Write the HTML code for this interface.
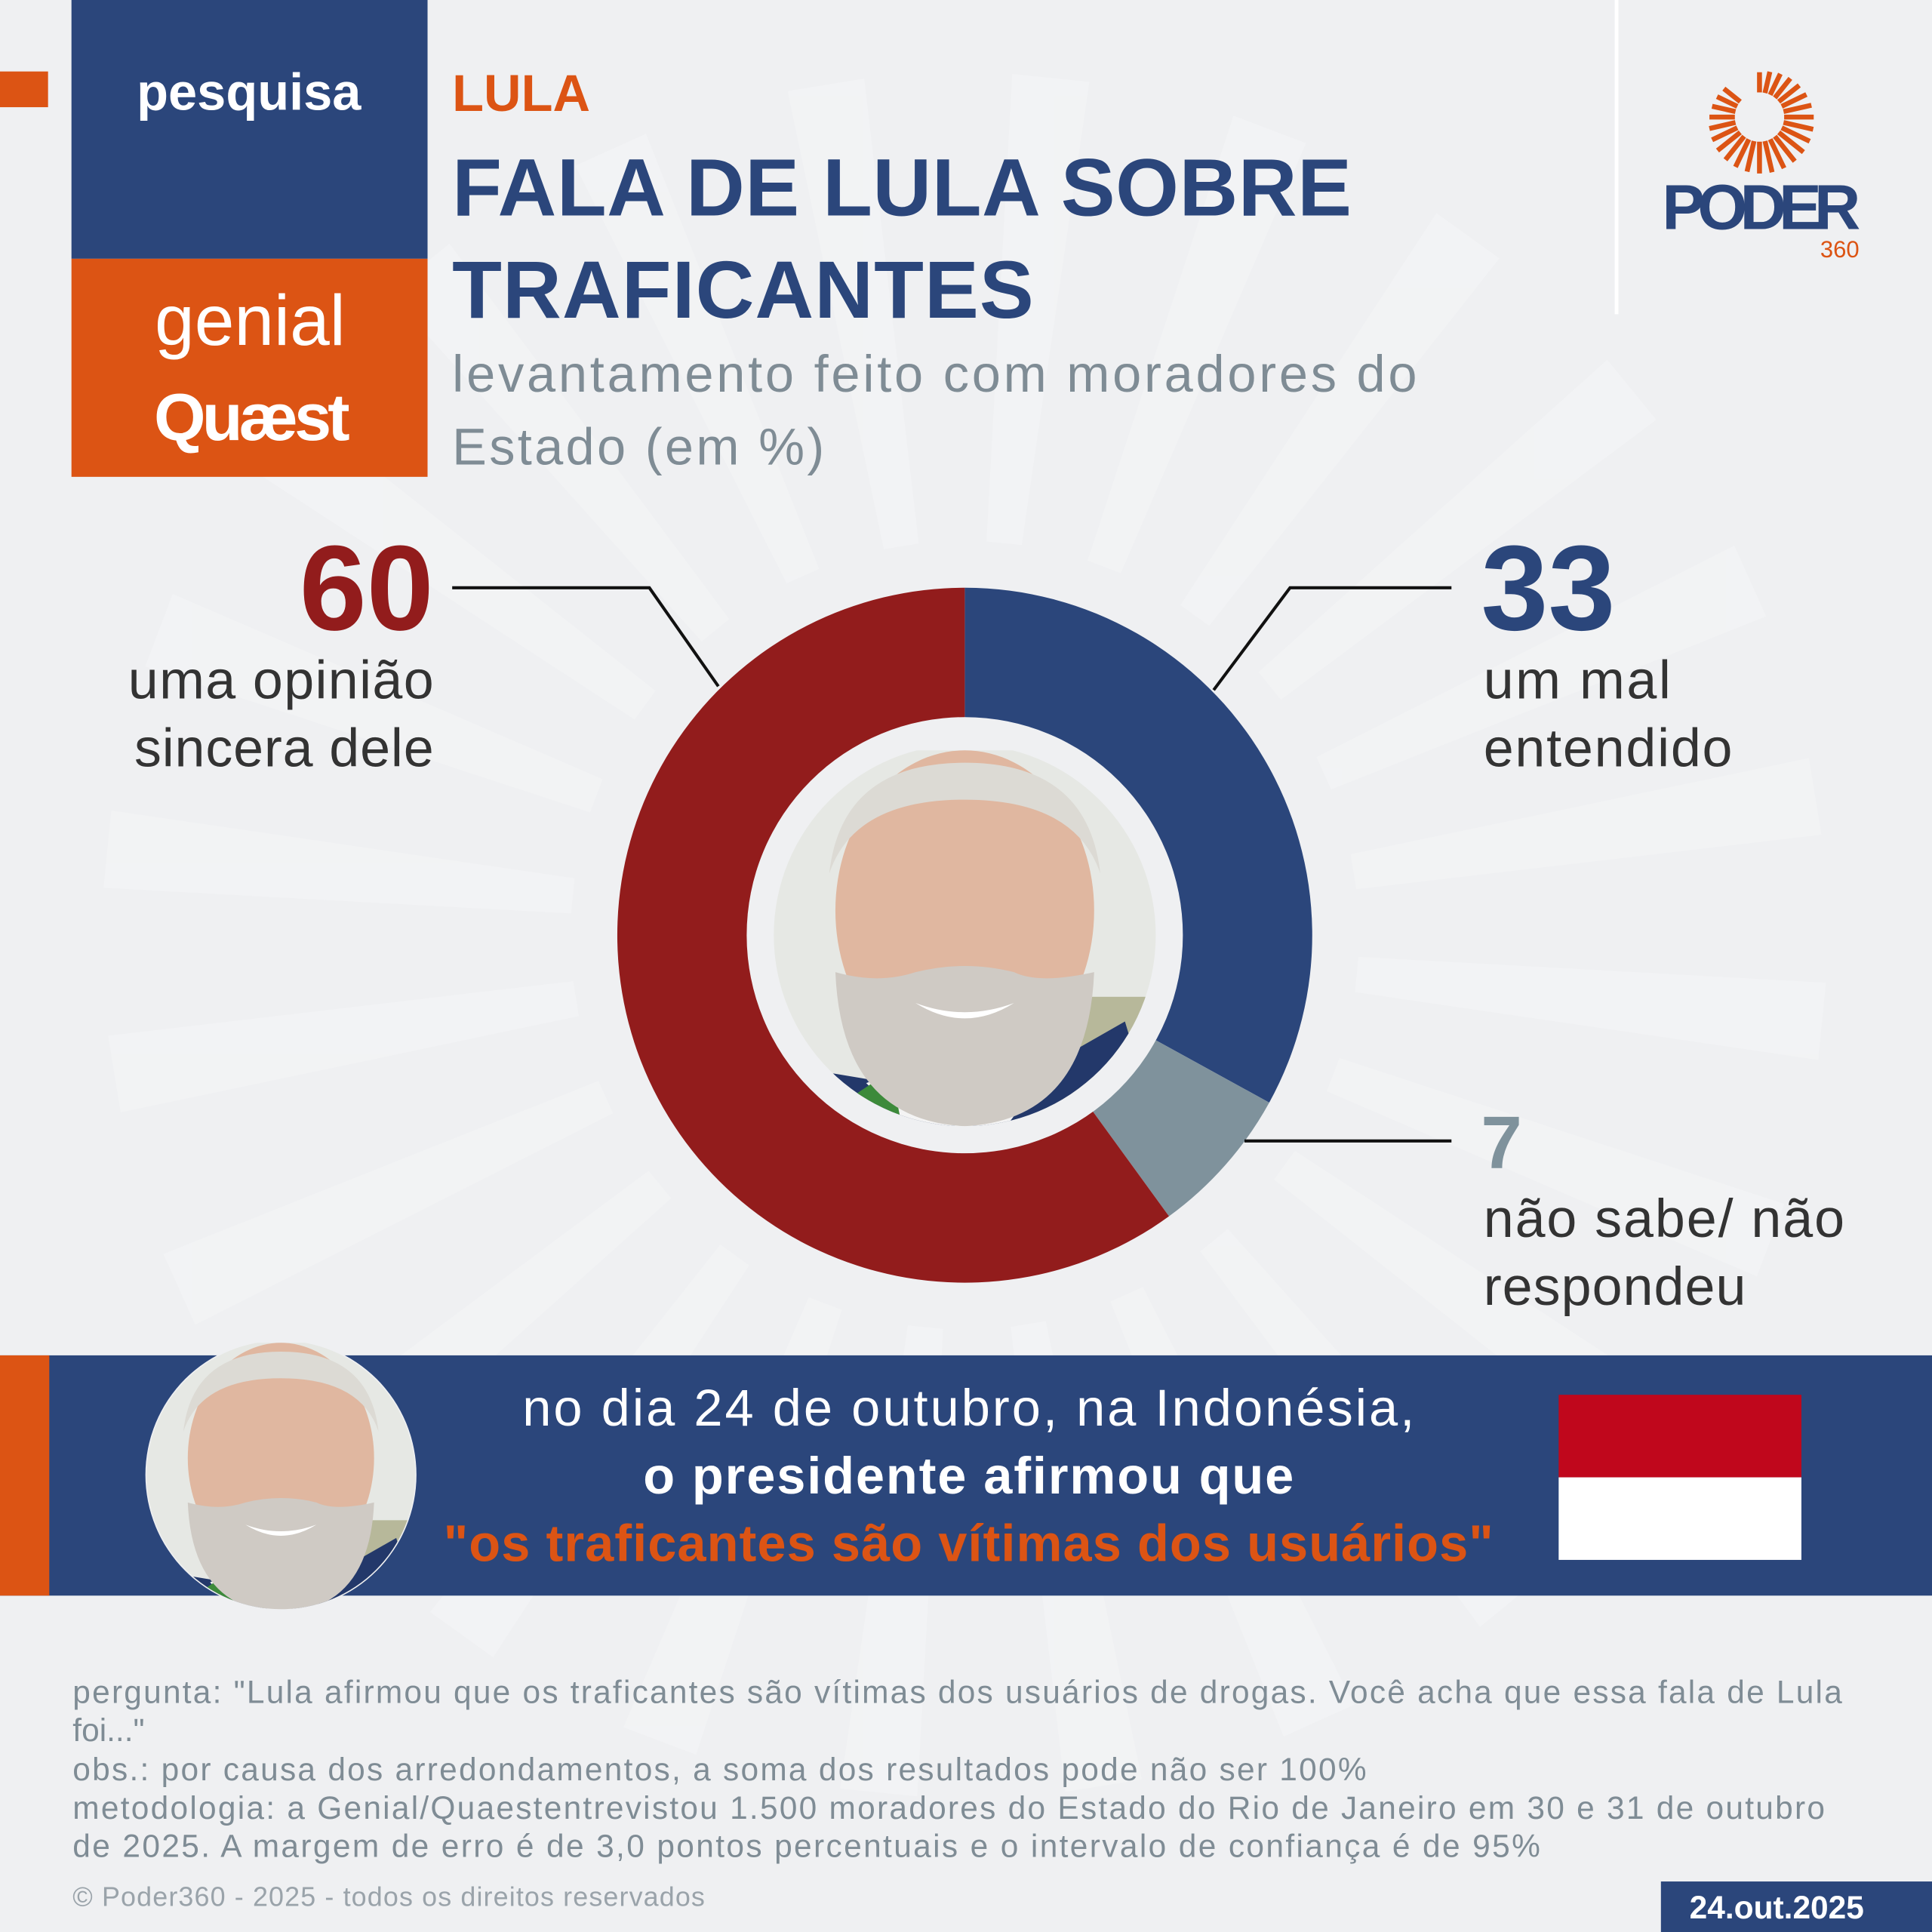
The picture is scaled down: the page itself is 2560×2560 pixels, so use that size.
<!DOCTYPE html>
<html><head><meta charset="utf-8"><style>
html,body{margin:0;padding:0;background:#eff0f2}
svg{display:block}
text{font-family:"Liberation Sans","DejaVu Sans",sans-serif}
</style></head><body>
<svg id="chart" width="2560" height="2560" viewBox="0 0 1568 1568" xmlns="http://www.w3.org/2000/svg">
<defs>
<clipPath id="c1"><circle cx="783" cy="759" r="155"/></clipPath>
<clipPath id="c2"><circle cx="228" cy="1197" r="109"/></clipPath>
<g id="face">
<rect x="-160" y="-160" width="320" height="320" fill="#e6e8e4"/>
<rect x="70" y="40" width="90" height="100" fill="#b7b89a"/>
<path d="M-160 160 L-120 100 L-60 110 L0 150 L60 100 L130 60 L160 160 Z" fill="#23386a"/>
<path d="M-80 110 L-40 150 L30 150 L90 70 L60 60 Z" fill="#f4f4f4"/>
<path d="M-90 120 L-60 100 L-50 150 L-100 160 Z" fill="#3c8a3a"/>
<ellipse cx="0" cy="-30" rx="105" ry="130" fill="#e0b7a0"/>
<path d="M-110 -60 Q-100 -150 0 -150 Q100 -150 110 -60 Q90 -120 0 -120 Q-90 -120 -110 -60Z" fill="#dcdad4"/>
<path d="M-105 20 Q-100 140 0 145 Q100 140 105 20 Q60 30 40 20 Q0 10 -40 20 Q-70 30 -105 20Z" fill="#cfcac4"/>
<path d="M-40 45 Q0 60 40 45 Q0 70 -40 45Z" fill="#fff"/>
</g>
</defs>
<rect width="1568" height="1568" fill="#eff0f2"/>
<g id="rays" fill="#f6f7f8" opacity="0.45"></g>

<rect x="0" y="58" width="39" height="29" fill="#dc5414"/>
<rect x="58" y="0" width="289" height="210" fill="#2b467b"/>
<text x="202" y="89" text-anchor="middle" font-size="42" font-weight="bold" fill="#fff">pesquisa</text>
<rect x="58" y="210" width="289" height="177" fill="#dc5414"/>
<text x="203" y="280" text-anchor="middle" font-size="58" fill="#fff">genial</text>
<text x="203" y="357" text-anchor="middle" font-size="54" font-weight="bold" fill="#fff" letter-spacing="-3">Quæst</text>

<text x="367" y="90" font-size="42" font-weight="bold" fill="#dc5414">LULA</text>
<text x="367" y="175" font-size="66" font-weight="bold" fill="#2b467b" textLength="730">FALA DE LULA SOBRE</text>
<text x="367" y="258" font-size="66" font-weight="bold" fill="#2b467b" textLength="472">TRAFICANTES</text>
<text x="367" y="318" font-size="42" fill="#7f8c95" textLength="783">levantamento feito com moradores do</text>
<text x="367" y="377" font-size="42" fill="#7f8c95" textLength="302">Estado (em %)</text>

<line x1="1312" y1="0" x2="1312" y2="255" stroke="#fff" stroke-width="3"/>
<g>
<g id="sun" stroke="#dc5414" stroke-width="4"></g>
<text x="1428" y="186" text-anchor="middle" font-size="52" font-weight="bold" fill="#2b467b" letter-spacing="-3" textLength="158">PODER</text>
<text x="1509" y="209" text-anchor="end" font-size="19" fill="#dc5414">360</text>
</g>

<g id="donut"></g>
<circle cx="783" cy="759" r="177" fill="#eff0f2"/>
<g clip-path="url(#c1)"><use href="#face" transform="translate(783,769)"/></g>

<polyline points="367,477 527,477 583,557" fill="none" stroke="#111" stroke-width="2.5"/>
<polyline points="1178,477 1047,477 985,560" fill="none" stroke="#111" stroke-width="2.5"/>
<polyline points="1178,926 1010,926" fill="none" stroke="#111" stroke-width="2.5"/>

<text id="v0" x="352" y="511" text-anchor="end" font-size="98" font-weight="bold" fill="#921c1c"></text>
<text x="352" y="567" text-anchor="end" font-size="44" fill="#333" textLength="248">uma opinião</text>
<text x="352" y="622" text-anchor="end" font-size="44" fill="#333" textLength="243">sincera dele</text>
<text id="v1" x="1202" y="511" font-size="98" font-weight="bold" fill="#2b467b"></text>
<text x="1204" y="567" font-size="44" fill="#333" textLength="152">um mal</text>
<text x="1204" y="622" font-size="44" fill="#333" textLength="202">entendido</text>
<text id="v2" x="1202" y="948" font-size="60" font-weight="bold" fill="#7f929c"></text>
<text x="1204" y="1004" font-size="44" fill="#333" textLength="293">não sabe/ não</text>
<text x="1204" y="1059" font-size="44" fill="#333" textLength="213">respondeu</text>

<rect x="0" y="1100" width="1568" height="195" fill="#2b467b"/>
<rect x="0" y="1100" width="40" height="195" fill="#dc5414"/>
<circle cx="228" cy="1197" r="110" fill="#eff0f2"/>
<g clip-path="url(#c2)"><use href="#face" transform="translate(228,1205) scale(0.72)"/></g>
<text x="786" y="1157" text-anchor="middle" font-size="42" fill="#fff" textLength="724">no dia 24 de outubro, na Indonésia,</text>
<text x="786" y="1212" text-anchor="middle" font-size="42" font-weight="bold" fill="#fff" textLength="528">o presidente afirmou que</text>
<text x="786" y="1267" text-anchor="middle" font-size="42" font-weight="bold" fill="#dc5414" textLength="852">"os traficantes são vítimas dos usuários"</text>
<rect x="1265" y="1132" width="197" height="67" fill="#c0071c"/>
<rect x="1265" y="1199" width="197" height="67" fill="#fff"/>

<g font-size="26" fill="#7f8c95">
<text x="59" y="1382" textLength="1436">pergunta: "Lula afirmou que os traficantes são vítimas dos usuários de drogas. Você acha que essa fala de Lula</text>
<text x="59" y="1413">foi..."</text>
<text x="59" y="1445" textLength="1050">obs.: por causa dos arredondamentos, a soma dos resultados pode não ser 100%</text>
<text x="59" y="1476" textLength="1422">metodologia: a Genial/Quaestentrevistou 1.500 moradores do Estado do Rio de Janeiro em 30 e 31 de outubro</text>
<text x="59" y="1507" textLength="1191">de 2025. A margem de erro é de 3,0 pontos percentuais e o intervalo de confiança é de 95%</text>
</g>
<text x="59" y="1547" font-size="22" fill="#9aa3aa" textLength="513">© Poder360 - 2025 - todos os direitos reservados</text>
<rect x="1348" y="1527" width="220" height="41" fill="#2b467b"/>
<text x="1442" y="1557" text-anchor="middle" font-size="26" font-weight="bold" fill="#fff">24.out.2025</text>
</svg>
<script>
const categories = ["um mal entendido", "não sabe/ não respondeu", "uma opinião sincera dele"];
const values = [33, 7, 60];
const colors = ["#2b467b", "#7f929c", "#921c1c"];
const NS = "http://www.w3.org/2000/svg";
const cx = 783, cy = 759, R = 282;
const total = values.reduce((a, b) => a + b, 0);
function angle(v) { return v / total * 2 * Math.PI; }
function pt(a, rad) { return [cx + rad * Math.sin(a), cy - rad * Math.cos(a)]; }
let acc = 0;
const donut = document.getElementById('donut');
values.forEach((v, i) => {
  const a0 = angle(acc), a1 = angle(acc + v); acc += v;
  const p0 = pt(a0, R), p1 = pt(a1, R), large = (a1 - a0) > Math.PI ? 1 : 0;
  const p = document.createElementNS(NS, 'path');
  p.setAttribute('d', `M${cx},${cy} L${p0[0]},${p0[1]} A${R},${R} 0 ${large} 1 ${p1[0]},${p1[1]} Z`);
  p.setAttribute('fill', colors[i]);
  
  
  donut.appendChild(p);
});
document.getElementById('v1').textContent = values[0];
document.getElementById('v2').textContent = values[1];
document.getElementById('v0').textContent = values[2];
const rays = document.getElementById('rays');
for (let k = 0; k < 24; k++) {
  const a = k / 24 * 2 * Math.PI + 0.1;
  const w = 0.045;
  const q1 = [cx + 700 * Math.sin(a - w), cy - 700 * Math.cos(a - w)];
  const q2 = [cx + 700 * Math.sin(a + w), cy - 700 * Math.cos(a + w)];
  const q3 = [cx + 320 * Math.sin(a + w), cy - 320 * Math.cos(a + w)];
  const q4 = [cx + 320 * Math.sin(a - w), cy - 320 * Math.cos(a - w)];
  const pg = document.createElementNS(NS, 'polygon');
  pg.setAttribute('points', [q1, q2, q3, q4].map(q => q.join(',')).join(' '));
  
  
  rays.appendChild(pg);
}
const sun = document.getElementById('sun');
for (let k = 0; k < 28; k++) {
  const a = k / 28 * 2 * Math.PI;
  if (a > 5.6) continue;
  const len = 14 + 12 * Math.abs(Math.sin(a / 2 + 0.2));
  const sx = 1428, sy = 95, ri = 20;
  const l = document.createElementNS(NS, 'line');
  l.setAttribute('x1', sx + ri * Math.sin(a)); l.setAttribute('y1', sy - ri * Math.cos(a));
  l.setAttribute('x2', sx + (ri + len) * Math.sin(a)); l.setAttribute('y2', sy - (ri + len) * Math.cos(a));
  
  
  sun.appendChild(l);
}
</script>
</body></html>
